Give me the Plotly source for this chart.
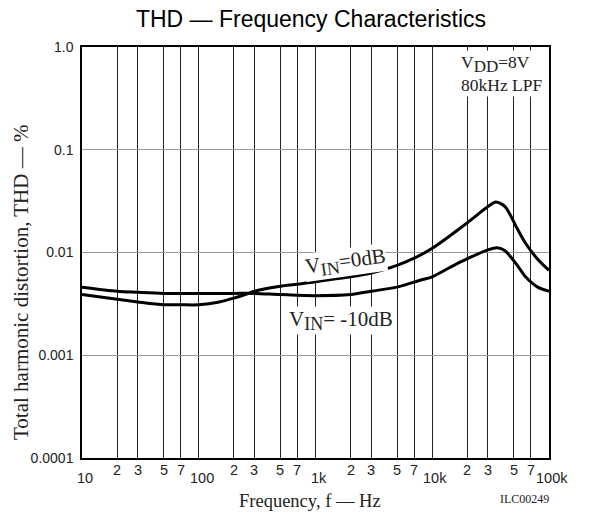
import math
import plotly.graph_objects as go

# ---- data ----
freq_0db = [10, 20, 30, 50, 70, 100, 150, 200, 250, 300, 500, 700, 1000, 2000, 3000,
            5000, 7000, 10000, 20000, 30000, 35000, 42000, 53000, 63000, 80000, 100000]
thd_0db = [0.0039, 0.0035, 0.0033, 0.0031, 0.0031, 0.0031, 0.0033, 0.0036, 0.0039, 0.0042,
           0.0047, 0.0049, 0.0052, 0.0058, 0.0063, 0.0075, 0.0088, 0.0110, 0.0195, 0.0280,
           0.0310, 0.0280, 0.0174, 0.0123, 0.0086, 0.0067]

freq_m10db = [10, 20, 30, 50, 100, 200, 300, 500, 1000, 2000, 3000, 5000, 8000, 10000,
              14000, 20000, 30000, 36000, 42000, 53000, 63000, 80000, 100000]
thd_m10db = [0.0046, 0.0042, 0.0041, 0.0040, 0.0040, 0.0040, 0.0040, 0.0039, 0.0038, 0.0039,
             0.0042, 0.0046, 0.0054, 0.0058, 0.0071, 0.0087, 0.0106, 0.0111, 0.0104, 0.0076,
             0.0058, 0.0046, 0.0042]

x_grid = [10, 20, 30, 50, 70, 100, 200, 300, 500, 700, 1000, 2000, 3000, 5000, 7000,
          10000, 20000, 30000, 50000, 70000, 100000]
x_minor_vals = [20, 30, 50, 70, 200, 300, 500, 700, 2000, 3000, 5000, 7000, 20000, 30000, 50000, 70000]
x_minor_text = ["2", "3", "5", "7"] * 4
x_major_vals = [10, 100, 1000, 10000, 100000]
x_major_text = ["10", "100", "1k", "10k", "100k"]
y_vals = [0.0001, 0.001, 0.01, 0.1, 1.0]
y_text = ["0.0001", "0.001", "0.01", "0.1", "1.0"]

serif = "Liberation Serif, Times New Roman, serif"
sans = "Liberation Sans, Arial, sans-serif"

fig = go.Figure()
fig.add_trace(go.Scatter(x=freq_0db, y=thd_0db, mode="lines",
                         line=dict(color="black", width=3, shape="spline", smoothing=0.8),
                         showlegend=False, hoverinfo="skip"))
fig.add_trace(go.Scatter(x=freq_m10db, y=thd_m10db, mode="lines",
                         line=dict(color="black", width=3, shape="spline", smoothing=0.8),
                         showlegend=False, hoverinfo="skip"))

W, H = 615, 515
L, R, T, B = 82, 66, 47, 57
PW, PH = W - L - R, H - T - B


def px(xp):
    return (xp - L) / PW


def py(yp):
    return (H - B - yp) / PH


fig.update_layout(
    width=W, height=H,
    margin=dict(l=L, r=R, t=T, b=B),
    paper_bgcolor="white", plot_bgcolor="white",
    title=dict(text="THD — Frequency Characteristics", x=311 / W, xref="container", xanchor="center",
               y=1 - 19 / H, yref="container", yanchor="middle",
               font=dict(family=sans, size=23, color="black")),
    xaxis=dict(type="log", range=[1, 5], tickvals=x_grid, showticklabels=False, ticks="",
               showgrid=True, gridcolor="#222", gridwidth=1,
               showline=True, linecolor="black", linewidth=1.5, mirror=True, zeroline=False),
    yaxis=dict(type="log", range=[-4, 0], tickvals=y_vals, ticktext=y_text, ticks="",
               tickfont=dict(family=sans, size=14, color="#222"), ticklabelstandoff=4,
               showgrid=True, gridcolor="#999", gridwidth=1,
               showline=True, linecolor="black", linewidth=1.5, mirror=True, zeroline=False),
)

ann = []
for v, t in zip(x_minor_vals, x_minor_text):
    ann.append(dict(x=math.log10(v), y=0, xref="x", yref="paper", text=t, showarrow=False,
                    xanchor="center", yanchor="top", yshift=-2,
                    font=dict(family=sans, size=14.5, color="#222")))
for v, t in zip(x_major_vals, x_major_text):
    ann.append(dict(x=math.log10(v), y=0, xref="x", yref="paper", text=t, showarrow=False,
                    xanchor="center", yanchor="top", yshift=-10, xshift=3,
                    font=dict(family=sans, size=14.5, color="#222")))

ann.append(dict(x=px(21), y=py(283), xref="paper", yref="paper", text="Total harmonic distortion, THD — %",
                textangle=-90, showarrow=False, xanchor="center", yanchor="middle",
                font=dict(family=serif, size=21, color="#222")))
ann.append(dict(x=px(310), y=py(501), xref="paper", yref="paper",
                text="Frequency, f — Hz", showarrow=False, xanchor="center", yanchor="middle",
                font=dict(family=serif, size=18.5, color="#222")))
ann.append(dict(x=px(524), y=py(499), xref="paper", yref="paper",
                text="ILC00249", showarrow=False, xanchor="center", yanchor="middle",
                font=dict(family=serif, size=12, color="#222")))
sub = '<sub><span style="font-size:{}px">{}</span></sub>'
ann.append(dict(x=px(459), y=py(50), xref="paper", yref="paper",
                text="V" + sub.format(17, "DD") + "=8V<br>80kHz LPF", showarrow=False,
                xanchor="left", yanchor="top", align="left", bgcolor="white", borderpad=1,
                font=dict(family=serif, size=17.5, color="#222")))
ann.append(dict(x=px(345), y=py(262), xref="paper", yref="paper",
                text="V" + sub.format(18, "IN") + "=0dB", showarrow=False, xanchor="center", yanchor="middle",
                textangle=-8, bgcolor="white", borderpad=0,
                font=dict(family=serif, size=21, color="#222")))
ann.append(dict(x=px(341), y=py(320), xref="paper", yref="paper",
                text="V" + sub.format(18, "IN") + "= -10dB", showarrow=False, xanchor="center", yanchor="middle",
                bgcolor="white", borderpad=0,
                font=dict(family=serif, size=21, color="#222")))
fig.update_layout(annotations=ann)

fig.write_html("out.html")
